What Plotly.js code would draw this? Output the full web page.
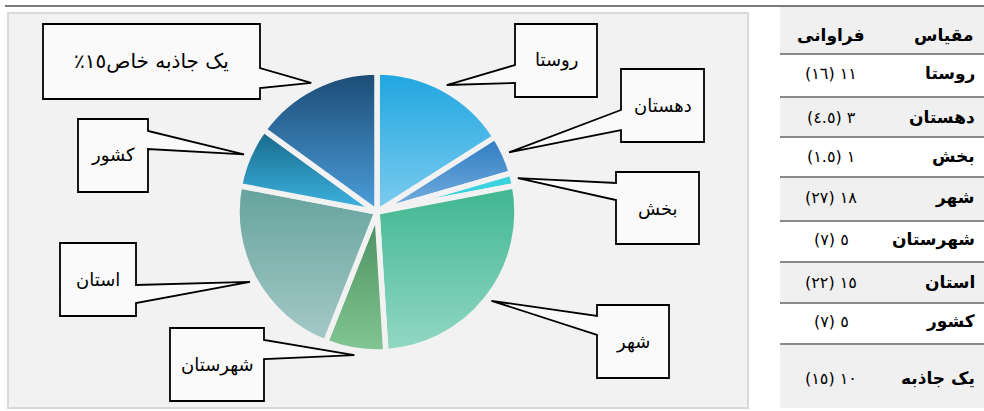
<!DOCTYPE html>
<html>
<head>
<meta charset="utf-8">
<script src="https://cdn.plot.ly/plotly-3.0.1.min.js"></script>
<style>html,body{margin:0;padding:0;background:#fff;}#chart{width:984px;height:411px;}</style>
</head>
<body>
<div id="chart"></div>
<script>
// ---- data ----
const categories = ["روستا","دهستان","بخش","شهر","شهرستان","استان","کشور","یک جاذبه"];
const calloutLabels = ["روستا","دهستان","بخش","شهر","شهرستان","استان","کشور","یک جاذبه خاص١٥٪\u200F"];
const counts = [11, 3, 1, 18, 5, 15, 5, 10];
const percents = [16, 4.5, 1.5, 27, 7, 22, 7, 15];
const headerLabels = ["مقیاس", "فراوانی"];

// ---- styles ----
const gradTop = ['#20a6e0','#2e7cc2','#3bd3de','#3fb690','#4a8e5e','#65a39c','#17698a','#1b4b74'];
const gradBot = ['#7dccef','#78b0e0','#3bd3de','#93d8c4','#82c693','#a5c9c8','#3fb5e2','#4c9fdc'];
const midCols = ['#4fb9e8','#5396d1','#3bd3de','#69c7aa','#66aa78','#85b6b2','#2b8fb6','#3475a8'];

const W = 984, H = 411;
const PX = x => x / W, PY = y => 1 - y / H;
const cx = 377, cy = 212, R = 140;

// callout boxes: [x0, y0, x1, y1, base0, base1]
const boxes = [
  [515, 24, 597, 97, 65, 83],
  [621, 69, 704, 142, 110, 130],
  [616, 172, 699, 244, 183, 200],
  [597, 305, 669, 378, 316, 335],
  [170, 328, 264, 401, 340, 359],
  [60, 243, 136, 316, 285, 303],
  [78, 119, 148, 192, 131, 149],
  [43, 24, 260, 99, 68, 88]
];

const ar = v => String(v).replace(/[0-9]/g, d => '٠١٢٣٤٥٦٧٨٩'[+d]);

const shapes = [];
const annotations = [];

// chart area background
shapes.push({type:'rect', xref:'paper', yref:'paper', layer:'below',
  x0:PX(8), x1:PX(748), y0:PY(408), y1:PY(13),
  fillcolor:'#f2f2f2', line:{color:'#d9d9d9', width:2}});

// table row backgrounds and lines
const rowLines = [6, 54, 97, 137, 177, 221, 262, 303, 344, 408];
const textY = [35, 73, 117, 156, 197, 240, 282, 321, 378];
for (let i = 0; i < rowLines.length - 1; i++) {
  const gray = (i % 2 === 0);
  shapes.push({type:'rect', xref:'paper', yref:'paper', layer:'below',
    x0:PX(780), x1:PX(984), y0:PY(rowLines[i+1]), y1:PY(rowLines[i] + 1),
    fillcolor: gray ? '#f0f0f0' : '#ffffff', line:{width:0}});
}
for (let i = 1; i < rowLines.length - 1; i++) {
  shapes.push({type:'line', xref:'paper', yref:'paper', layer:'above',
    x0:PX(780), x1:PX(984), y0:PY(rowLines[i]), y1:PY(rowLines[i]),
    line:{color:'#8a8a8a', width:2}});
}
// top rule
shapes.push({type:'line', xref:'paper', yref:'paper', layer:'above',
  x0:PX(5), x1:PX(984), y0:PY(6), y1:PY(6), line:{color:'#7a7a7a', width:2}});

// table text
annotations.push({xref:'paper', yref:'paper', x:PX(976), y:PY(textY[0]), text:'<b>' + headerLabels[0] + '</b>',
  showarrow:false, xanchor:'right', yanchor:'middle', font:{family:'DejaVu Sans', size:17, color:'#000'}});
annotations.push({xref:'paper', yref:'paper', x:PX(831), y:PY(textY[0]), text:'<b>' + headerLabels[1] + '</b>',
  showarrow:false, xanchor:'center', yanchor:'middle', font:{family:'DejaVu Sans', size:17, color:'#000'}});
categories.forEach((c, i) => {
  annotations.push({xref:'paper', yref:'paper', x:PX(977), y:PY(textY[i+1]), text:'<b>' + c + '</b>',
    showarrow:false, xanchor:'right', yanchor:'middle', font:{family:'DejaVu Sans', size:17, color:'#000'}});
  annotations.push({xref:'paper', yref:'paper', x:PX(831), y:PY(textY[i+1]),
    text:'\u200E(' + ar(percents[i]) + ')\u200E ' + ar(counts[i]),
    showarrow:false, xanchor:'center', yanchor:'middle', font:{family:'DejaVu Sans', size:16, color:'#000'}});
});

// callouts: tip computed from the pie's data
const total = percents.reduce((a, b) => a + b, 0);
let cum = 0;
percents.forEach((v, i) => {
  const th = (cum + v / 2) / total * 2 * Math.PI;
  cum += v;
  const tx = cx + 1.035 * R * Math.sin(th), ty = cy - 1.035 * R * Math.cos(th);
  const [x0, y0, x1, y1, b0, b1] = boxes[i];
  let pts;
  if (x0 > cx) {
    pts = [[x0,y0],[x1,y0],[x1,y1],[x0,y1],[x0,b1],[tx,ty],[x0,b0]];
  } else {
    pts = [[x0,y0],[x1,y0],[x1,b0],[tx,ty],[x1,b1],[x1,y1],[x0,y1]];
  }
  const path = 'M' + pts.map(p => PX(p[0]).toFixed(5) + ',' + PY(p[1]).toFixed(5)).join(' L') + ' Z';
  shapes.push({type:'path', xref:'paper', yref:'paper', layer:'above', path:path,
    fillcolor:'#fafafa', line:{color:'#000', width:1.8}});
  annotations.push({xref:'paper', yref:'paper', x:PX((x0 + x1) / 2), y:PY((y0 + y1) / 2),
    text:calloutLabels[i], showarrow:false, xanchor:'center', yanchor:'middle',
    font:{family:'DejaVu Sans', size:(i === 7 ? 20 : 18), color:'#000'}});
});

const trace = {
  type:'pie', labels:categories, values:percents, sort:false, direction:'clockwise', rotation:0,
  textinfo:'none', hoverinfo:'none', showlegend:false,
  marker:{colors:midCols, line:{color:'#f2f2f2', width:5.5}},
  domain:{x:[PX(cx - R), PX(cx + R)], y:[PY(cy + R), PY(cy - R)]}
};

const layout = {
  width:W, height:H, margin:{l:0, r:0, t:0, b:0},
  paper_bgcolor:'#ffffff', showlegend:false,
  shapes:shapes, annotations:annotations
};

Plotly.newPlot('chart', [trace], layout, {staticPlot:true, displayModeBar:false}).then(gd => {
  const svg = gd.querySelector('.main-svg');
  const NS = 'http://www.w3.org/2000/svg';
  let defs = svg.querySelector('defs');
  if (!defs) { defs = document.createElementNS(NS, 'defs'); svg.insertBefore(defs, svg.firstChild); }
  gradTop.forEach((c, i) => {
    const g = document.createElementNS(NS, 'linearGradient');
    g.setAttribute('id', 'sliceGrad' + i);
    g.setAttribute('x1', '0'); g.setAttribute('y1', '0');
    g.setAttribute('x2', '0'); g.setAttribute('y2', '1');
    const s1 = document.createElementNS(NS, 'stop');
    s1.setAttribute('offset', '0'); s1.setAttribute('stop-color', c);
    const s2 = document.createElementNS(NS, 'stop');
    s2.setAttribute('offset', '1'); s2.setAttribute('stop-color', gradBot[i]);
    g.appendChild(s1); g.appendChild(s2);
    defs.appendChild(g);
  });
  gd.querySelectorAll('.slice path.surface').forEach((p, i) => {
    p.style.fill = 'url(#sliceGrad' + i + ')';
  });
});
</script>
</body>
</html>
